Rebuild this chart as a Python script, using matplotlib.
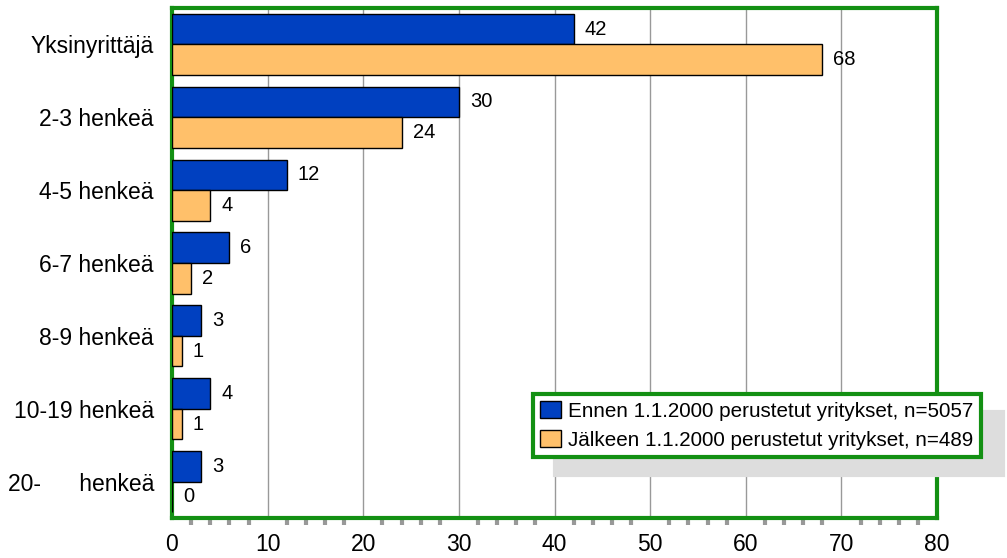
import matplotlib.pyplot as plt
import numpy as np

categories = ['Yksinyrittäjä', '2-3 henkeä', '4-5 henkeä', '6-7 henkeä',
              '8-9 henkeä', '10-19 henkeä', '20-      henkeä']
before = [42, 30, 12, 6, 3, 4, 3]
after = [68, 24, 4, 2, 1, 1, 0]
series_labels = ['Ennen 1.1.2000 perustetut yritykset, n=5057',
                 'Jälkeen 1.1.2000 perustetut yritykset, n=489']

plt.rcParams['font.family'] = ['Liberation Sans', 'DejaVu Sans']

fig = plt.figure(figsize=(10.07, 5.58), dpi=100)
ax = fig.add_axes([172/1007, 1 - 518/558, (937-172)/1007, (518-8)/558])

y = np.arange(len(categories))
h = 0.42
b1 = ax.barh(y - h/2, before, height=h, color='#0040C0', edgecolor='black', linewidth=1,
             label=series_labels[0], zorder=3)
b2 = ax.barh(y + h/2, after, height=h, color='#FFC06A', edgecolor='black', linewidth=1,
             label=series_labels[1], zorder=3)

for yi, v in zip(y, before):
    ax.annotate(str(v), xy=(v, yi - h/2), xytext=(8, 0), textcoords='offset points',
                va='center', ha='left', fontsize=14.5)
for yi, v in zip(y, after):
    ax.annotate(str(v), xy=(v, yi + h/2), xytext=(8, 0), textcoords='offset points',
                va='center', ha='left', fontsize=14.5)

ax.set_xlim(0, 80)
ax.set_ylim(len(categories) - 0.5, -0.5)
ax.set_yticks(y)
ax.set_yticklabels(categories, fontsize=16.5)
ax.set_xticks(range(0, 81, 10))
ax.tick_params(axis='x', labelsize=16.5, length=0, pad=11)
ax.tick_params(axis='y', length=0, pad=13)
ax.set_xticks([m for m in range(2, 80, 2) if m % 10 != 0], minor=True)
ax.tick_params(axis='x', which='minor', length=5, width=3, color='#999999', direction='out')
ax.grid(axis='x', color='#999999', linewidth=1, zorder=0)

for s in ax.spines.values():
    s.set_color('#139013')
    s.set_linewidth(3)

leg = fig.legend(loc='lower left', bbox_to_anchor=(533/1007, 1 - 457/558), fontsize=14.9,
                 frameon=True, fancybox=False, borderaxespad=0, handlelength=1.0,
                 handleheight=0.9, handletextpad=0.35, labelspacing=0.45, borderpad=0.35,
                 shadow={'ox': 16, 'oy': -13, 'color': '#DDDDDD', 'alpha': 1})
leg.get_frame().set_edgecolor('#139013')
leg.get_frame().set_linewidth(3)

fig.savefig('out.png', dpi=100)
